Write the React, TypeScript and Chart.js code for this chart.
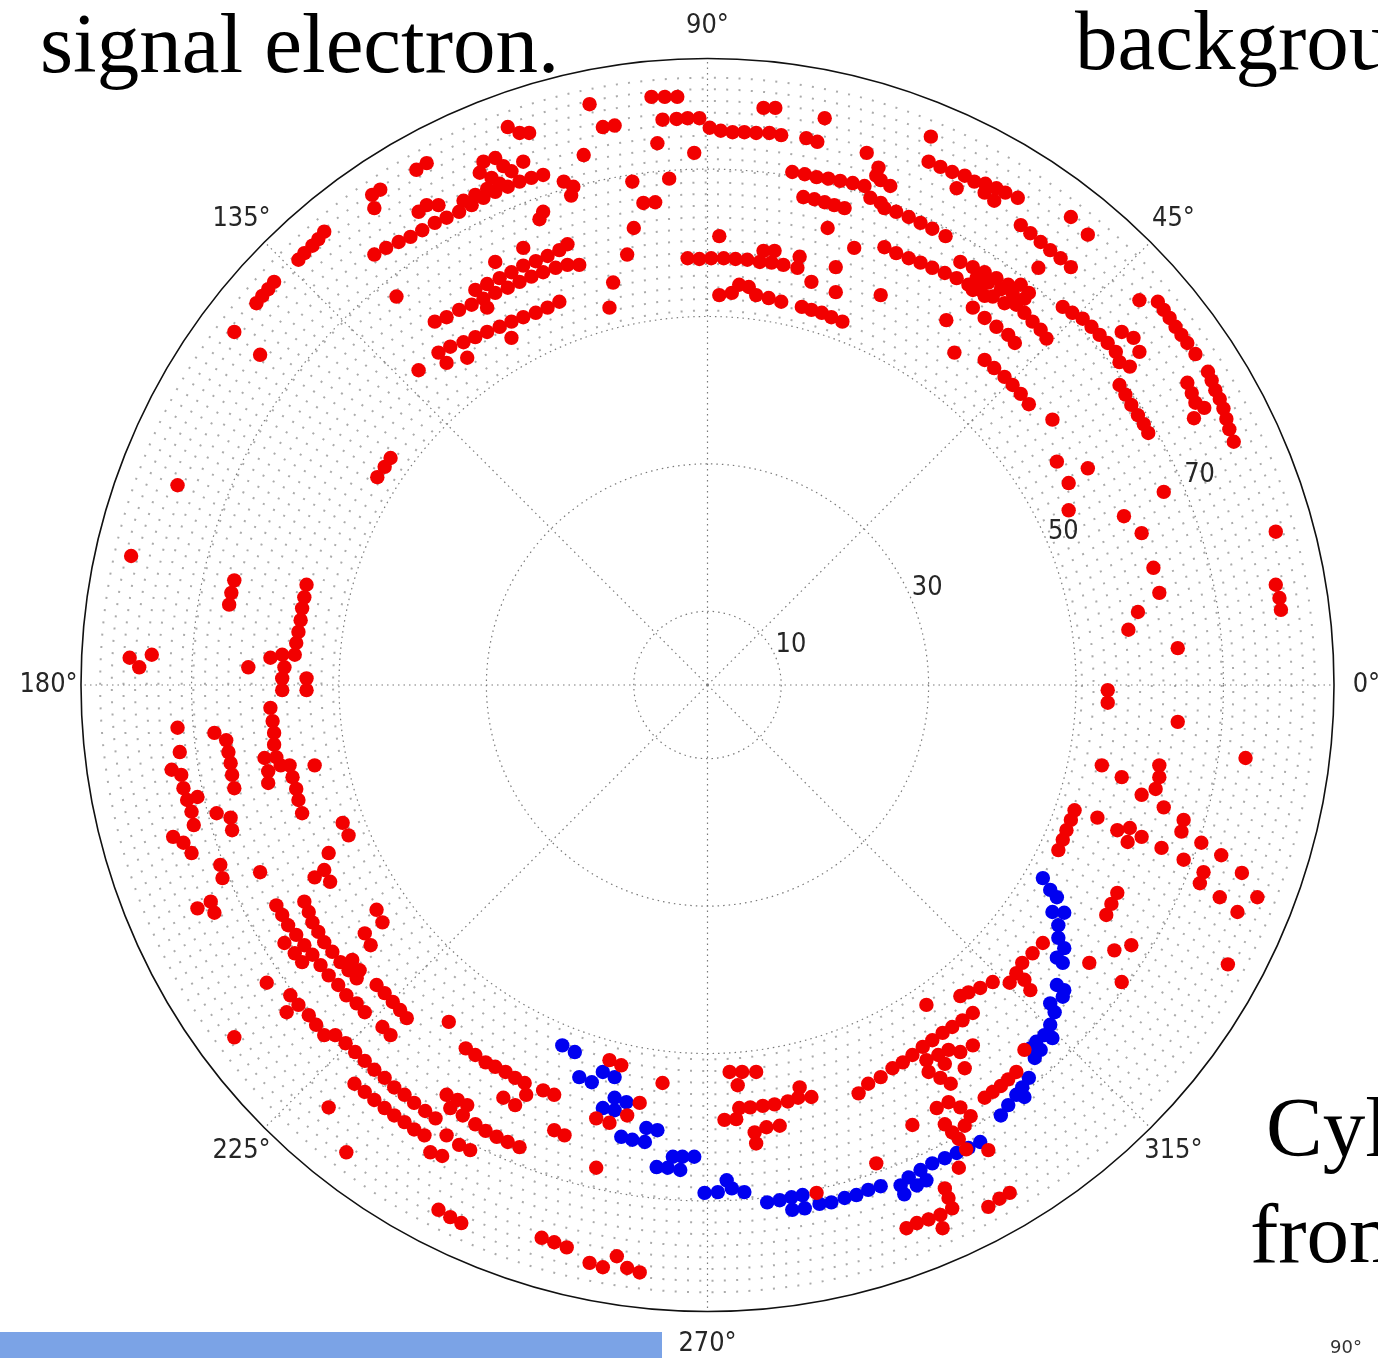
import React, { useEffect, useRef } from "react";
import { Chart, registerables } from "chart.js";

Chart.register(...registerables);

// ---- axes / ticks ----
const R_MAX = 85;
const radialTicks = [10, 30, 50, 70];
const radialLabelAngle = 22.5;
const angleTicks = [0, 45, 90, 135, 180, 225, 270, 315];
const angleTickLabels = ["0°", "45°", "90°", "135°", "180°", "225°", "270°", "315°"];
const ANGLE_LABEL_R = 89.4;
// drift-chamber wire layers (drawn as a dotted background grid)
const WIRE_INNER = 50.8;
const WIRE_OUTER = 82.4;
const WIRE_STEP = 1.58;

// ---- hits, [x, y] in the same units as the radial axis ----
const redUpperHits: number[][] = [
  [-7.6, 79.8], [-5.8, 79.8], [-4.1, 79.8], [-6.1, 76.7], [-4.2, 76.8], [-2.7, 76.9], [-1.1, 76.9],
  [0.3, 75.6], [1.8, 75.2], [3.4, 75.0], [5.0, 75.0], [6.6, 74.9], [8.4, 74.9], [10.0, 74.6],
  [-14.2, 75.7], [-12.6, 75.9], [7.6, 78.3], [9.2, 78.3], [15.9, 76.9], [13.4, 74.2], [14.9, 73.7],
  [-6.8, 73.5], [-1.8, 72.2], [-10.2, 68.3], [-5.2, 68.7], [21.6, 72.2], [23.2, 70.2], [22.9, 69.1],
  [11.5, 69.6], [13.2, 69.3], [14.8, 68.9], [16.4, 68.7], [18.0, 68.4], [19.7, 68.1], [21.3, 67.7],
  [23.5, 68.5], [24.8, 67.7], [22.1, 66.1], [23.5, 65.4],
  [24.0, 64.7], [25.6, 64.2], [27.3, 63.5], [28.9, 62.7], [30.5, 61.9], [32.3, 60.9],
  [13.0, 66.2], [14.5, 65.9], [15.9, 65.5], [17.2, 65.1], [18.6, 64.7], [16.3, 62.0],
  [1.6, 60.9],
  [-2.7, 57.9], [-1.1, 57.8], [0.5, 57.9], [2.2, 57.9], [3.8, 57.8], [5.4, 57.7], [7.1, 57.4],
  [8.7, 57.3], [10.3, 57.0], [12.2, 56.6], [7.6, 58.9], [9.1, 58.9], [12.5, 58.1], [19.9, 59.3],
  [17.4, 56.7], [14.1, 54.7], [17.4, 53.3], [23.5, 52.9],
  [1.6, 52.9], [3.3, 53.2], [4.3, 54.3], [5.6, 54.0], [6.6, 52.9], [8.3, 52.5], [10.0, 52.0],
  [12.8, 51.3], [14.1, 50.9], [15.5, 50.5], [16.8, 49.9], [18.3, 49.3],
  [-8.7, 65.4], [-7.1, 65.5], [-10.0, 62.0], [-10.9, 58.4], [-12.8, 54.6], [-13.3, 51.2],
  [-16.0, 78.8], [-16.8, 71.9],
];

const redUpperRightHits: number[][] = [
  [30.3, 74.4], [30.0, 71.0], [31.6, 70.3], [33.2, 69.6], [34.9, 69.1], [36.2, 68.3], [37.7, 68.0],
  [39.2, 67.4], [40.4, 66.8], [42.1, 66.1], [33.8, 67.4], [37.6, 66.8], [38.9, 65.7], [49.3, 63.5],
  [51.6, 61.1],
  [42.5, 62.4], [43.8, 61.3], [45.2, 60.1], [46.5, 59.0], [47.9, 57.9], [49.3, 56.7], [44.9, 56.6],
  [24.0, 59.4], [25.6, 58.6], [27.3, 57.9], [28.9, 57.3], [30.5, 56.6], [32.2, 55.9], [33.8, 55.2],
  [35.4, 54.3], [37.0, 53.6], [38.7, 52.7], [40.3, 51.8],
  [34.3, 57.4], [36.0, 56.7], [37.6, 56.0], [39.2, 55.2], [40.8, 54.3], [42.5, 54.3], [43.6, 53.2],
  [36.5, 55.2], [38.1, 54.6], [39.8, 53.7], [41.4, 53.1], [43.0, 52.4], [36.0, 53.6], [37.6, 52.8],
  [36.0, 51.2], [37.6, 49.8], [39.2, 48.6], [40.8, 47.5], [41.7, 46.4],
  [41.9, 51.6], [43.0, 50.5], [44.1, 49.3], [45.2, 48.2], [46.0, 47.0],
  [32.4, 49.5], [33.5, 45.1],
  [37.6, 44.1], [38.9, 43.0], [40.3, 41.8], [41.4, 40.7], [42.5, 39.5], [43.6, 38.1],
  [46.8, 36.0], [47.4, 30.3], [51.6, 29.4],
  [48.2, 51.3], [49.5, 50.5], [50.9, 49.7], [52.1, 48.6], [53.2, 47.5], [54.3, 46.4], [55.4, 45.2],
  [55.9, 43.8], [56.2, 47.9], [57.8, 47.1], [58.6, 45.2], [57.3, 43.2],
  [55.9, 40.7], [56.7, 39.4], [57.5, 38.0], [58.4, 36.6], [59.2, 35.4], [59.8, 34.2], [58.6, 52.2],
  [61.1, 52.0], [61.9, 50.9], [62.7, 49.8], [63.5, 48.6], [64.3, 47.5], [65.1, 46.4], [66.2, 44.9],
  [67.9, 42.5], [68.4, 41.3], [68.9, 40.0], [69.5, 38.8], [70.0, 37.5], [70.4, 36.1], [70.8, 34.7],
  [71.4, 33.0], [65.1, 41.0], [65.7, 39.6], [66.2, 38.3], [66.0, 36.2], [67.4, 37.6],
  [49.0, 27.4], [49.0, 23.7],
];

const redRightHits: number[][] = [
  [56.5, 22.9], [58.9, 20.6], [61.9, 26.2], [77.1, 20.8], [60.5, 15.9], [61.3, 12.5], [58.4, 9.9],
  [57.1, 7.5], [63.8, 5.0], [77.1, 13.6], [77.6, 11.8], [77.8, 10.2], [54.3, -0.7], [54.3, -2.4],
  [63.8, -5.0], [73.0, -9.9], [53.5, -10.9], [56.2, -12.5], [61.3, -10.9], [61.3, -12.5],
  [60.8, -14.1], [58.9, -14.9], [61.9, -16.6], [52.9, -18.0], [64.6, -18.3], [64.3, -19.9],
  [55.6, -19.7], [57.3, -19.4], [57.0, -21.3], [58.9, -20.6], [61.6, -22.1], [64.6, -23.7],
  [67.0, -21.4], [69.7, -23.1], [67.3, -25.4], [66.8, -26.9], [72.5, -25.5], [69.5, -28.8],
  [74.6, -28.8], [71.9, -30.8], [70.6, -37.9],
  [49.8, -17.0], [49.3, -18.3], [48.7, -19.7], [48.2, -21.0], [47.6, -22.4],
  [55.6, -28.2], [54.8, -29.7], [54.1, -31.2], [51.8, -37.7], [55.2, -36.0], [57.5, -35.3],
  [56.2, -40.3],
  [45.5, -35.0], [44.1, -36.4], [42.7, -37.7], [41.9, -39.1], [41.0, -40.4], [38.7, -40.3],
  [37.0, -41.1], [35.4, -41.7], [34.3, -42.2], [43.0, -40.0], [43.8, -41.4], [29.7, -43.4],
  [36.0, -44.5], [34.6, -45.5], [33.2, -46.4], [31.9, -47.2], [30.5, -48.2], [29.2, -49.1],
  [27.8, -50.2], [26.5, -51.2], [25.1, -52.0], [23.5, -53.2], [21.8, -54.1], [20.5, -55.4],
  [31.3, -50.2], [29.7, -50.9], [32.2, -51.4], [30.0, -52.5], [31.6, -53.3], [33.0, -54.1],
  [32.7, -49.5], [34.3, -49.8], [36.0, -48.9], [34.9, -52.0],
  [41.9, -52.5], [40.8, -53.5], [39.8, -54.4], [38.7, -55.2], [37.6, -56.0], [43.0, -49.5],
  [31.1, -57.4], [32.7, -56.6], [34.3, -57.3], [35.7, -58.5], [34.9, -59.8], [33.2, -60.7],
  [32.2, -59.6], [27.8, -59.7], [34.1, -61.6], [35.1, -63.0], [38.1, -63.1], [34.1, -65.5],
  [22.9, -64.9], [32.2, -68.3], [32.7, -69.6], [33.2, -71.0], [31.6, -71.9], [30.0, -72.5],
  [28.4, -73.0], [27.0, -73.7], [31.9, -73.7], [38.1, -70.8], [39.6, -69.7], [41.0, -68.9],
  [14.8, -68.9],
];

const redBottomHits: number[][] = [
  [3.0, -52.5], [4.7, -52.5], [6.6, -52.5], [4.1, -54.3], [2.3, -59.0], [3.9, -58.9], [4.3, -57.4],
  [5.8, -57.3], [7.5, -57.1], [9.1, -56.9], [10.9, -56.5], [12.3, -56.0], [12.5, -54.6], [14.1, -55.9],
  [6.4, -60.7], [8.0, -60.0], [9.8, -59.8], [6.6, -62.2],
  [-13.3, -50.9], [-11.7, -51.6], [-6.1, -54.0], [-20.8, -55.6], [-20.8, -60.4], [-19.4, -61.1],
  [-15.1, -58.8], [-13.3, -59.4], [-10.9, -58.4], [-9.2, -56.7], [-15.1, -65.5], [-22.3, -55.0],
  [-20.8, -75.6], [-19.1, -76.3], [-22.5, -75.0], [-16.0, -78.4], [-14.2, -79.0], [-12.3, -77.5],
  [-10.9, -79.1], [-9.2, -79.7],
];

const redLowerLeftHits: number[][] = [
  [-36.5, -71.2], [-34.9, -72.2], [-33.4, -73.0], [-49.0, -63.4], [-51.4, -57.3], [-64.2, -47.8],
  [-59.8, -40.4], [-35.1, -45.7],
  [-32.8, -49.3], [-31.5, -50.2], [-30.1, -51.2], [-28.8, -51.8], [-27.4, -52.5], [-26.1, -53.3],
  [-24.8, -54.0], [-27.7, -56.0], [-26.1, -57.0], [-24.6, -55.6],
  [-35.4, -55.6], [-33.9, -56.3], [-32.6, -57.0], [-34.9, -57.4], [-33.2, -58.4], [-31.5, -59.6],
  [-30.1, -60.5], [-28.6, -61.3], [-27.1, -62.0], [-25.5, -62.7], [-35.4, -61.1], [-37.6, -63.4],
  [-36.0, -63.9], [-33.7, -62.4], [-32.2, -63.1],
  [-56.6, -42.1], [-57.1, -44.4], [-55.5, -43.4], [-54.1, -44.8], [-53.1, -46.1], [-52.0, -47.5],
  [-50.5, -47.5], [-49.1, -48.6], [-47.8, -49.8], [-46.5, -51.0], [-45.2, -52.2], [-43.8, -53.3],
  [-42.5, -54.6], [-41.1, -55.6], [-39.8, -56.7], [-38.3, -57.8], [-36.9, -58.8],
  [-47.9, -54.1], [-46.5, -55.2], [-45.2, -56.3], [-43.8, -57.4], [-42.5, -58.4], [-41.1, -59.3],
  [-39.8, -60.3], [-38.4, -61.1],
  [-44.9, -40.7], [-43.8, -41.8], [-42.7, -43.0], [-41.7, -44.1], [-40.8, -45.2],
  [-44.9, -30.5], [-44.1, -32.2], [-46.5, -33.7], [-45.7, -35.3], [-44.1, -46.4], [-43.0, -47.5],
  [-58.5, -29.9], [-57.7, -31.2], [-56.9, -32.6], [-55.8, -33.9], [-54.7, -35.3], [-53.6, -36.6],
  [-52.5, -38.0], [-51.4, -39.4], [-50.1, -40.7], [-49.0, -42.1], [-47.6, -43.2], [-46.5, -44.4],
  [-54.7, -29.4], [-54.1, -30.8], [-53.6, -32.2], [-52.8, -33.5], [-52.0, -34.9], [-50.9, -36.2],
  [-49.8, -37.6], [-48.7, -38.7], [-47.6, -39.8],
  [-57.4, -35.0], [-56.0, -36.4], [-55.0, -37.6], [-48.2, -37.3], [-47.2, -38.7],
  [-69.2, -30.3], [-67.4, -29.4], [-66.9, -30.9],
];

const redLeftHits: number[][] = [
  [-43.0, 30.8], [-43.8, 29.6], [-44.8, 28.2], [-71.9, 27.1], [-78.2, 17.5],
  [-64.2, 14.2], [-64.6, 12.5], [-64.9, 10.9],
  [-54.4, 13.6], [-54.7, 11.9], [-55.0, 10.4], [-55.2, 8.8], [-55.5, 7.2], [-55.8, 5.7], [-56.0, 4.1],
  [-59.3, 3.7], [-57.7, 4.1], [-57.4, 2.4], [-57.7, 0.9], [-57.7, -0.7], [-54.4, 0.9], [-54.4, -0.7],
  [-62.3, 2.4], [-78.4, 3.7], [-77.1, 2.4], [-75.4, 4.1],
  [-59.3, -3.1], [-59.0, -4.9], [-58.8, -6.5], [-58.8, -8.1], [-58.5, -9.8], [-60.1, -9.9],
  [-59.6, -11.7], [-59.6, -13.3], [-57.9, -10.9], [-56.7, -10.9], [-56.3, -12.5], [-55.8, -14.1],
  [-55.5, -15.6], [-55.0, -17.4], [-53.3, -10.9], [-71.9, -5.8],
  [-66.9, -6.5], [-65.3, -7.5], [-65.0, -9.1], [-64.7, -10.6], [-64.5, -12.2], [-64.2, -14.0],
  [-71.6, -9.1], [-72.7, -11.5], [-71.4, -12.2], [-71.1, -14.0], [-70.6, -15.6], [-70.0, -17.2],
  [-69.7, -19.0], [-69.2, -15.2], [-66.6, -17.4], [-64.7, -18.0], [-64.5, -19.7],
  [-72.5, -20.6], [-71.1, -21.4], [-70.0, -22.8], [-49.5, -18.7], [-48.7, -20.4], [-51.4, -22.8],
  [-60.7, -25.4], [-66.1, -24.4], [-65.8, -26.2], [-53.3, -26.1], [-52.0, -25.1], [-51.2, -26.7],
];

const redUpperLeftHits: number[][] = [
  [-27.1, 75.7], [-25.5, 74.9], [-24.2, 74.9], [-38.1, 70.8], [-39.5, 69.9],
  [-45.2, 58.4], [-43.6, 59.3], [-41.9, 60.1], [-40.3, 60.8], [-38.7, 61.7], [-37.0, 62.7],
  [-35.4, 63.4], [-33.7, 64.2], [-32.0, 65.1], [-30.4, 66.1], [-28.8, 66.9], [-27.1, 67.6],
  [-25.5, 68.3], [-23.9, 68.8], [-22.3, 69.2],
  [-30.4, 71.0], [-28.8, 71.5], [-27.7, 70.4], [-26.6, 69.7], [-25.0, 71.0], [-30.9, 69.5],
  [-29.3, 68.8], [-39.2, 64.2], [-38.1, 65.1], [-36.5, 65.1], [-33.1, 65.7], [-31.5, 66.5],
  [-29.9, 67.3], [-28.2, 68.0],
  [-19.5, 68.3], [-18.2, 67.6], [-18.5, 66.4], [-45.5, 66.5], [-44.4, 67.2], [-45.2, 64.7],
  [-22.3, 64.2], [-22.8, 63.2],
  [-52.0, 61.5], [-52.8, 60.5], [-53.6, 59.6], [-54.7, 58.6], [-55.5, 57.7],
  [-58.8, 54.7], [-59.6, 53.7], [-60.4, 52.8], [-61.2, 51.8], [-64.2, 47.9], [-60.7, 44.8],
  [-42.2, 52.7], [-39.2, 42.7],
  [-37.0, 49.3], [-35.4, 49.9], [-33.7, 50.9], [-32.0, 51.6], [-30.4, 52.4], [-28.8, 53.2],
  [-27.1, 53.9], [-25.5, 54.7], [-23.9, 55.4], [-22.3, 56.0], [-20.6, 56.6], [-19.0, 57.0],
  [-17.4, 57.0],
  [-36.5, 45.1], [-34.9, 45.9], [-33.1, 46.5], [-31.5, 47.2], [-29.9, 47.9], [-28.2, 48.6],
  [-26.6, 49.3], [-25.0, 49.9], [-23.3, 50.5], [-21.7, 51.2], [-20.1, 52.0],
  [-31.5, 53.6], [-29.9, 54.4], [-28.2, 55.2], [-26.6, 56.0], [-25.0, 56.9], [-23.3, 57.5],
  [-21.7, 58.2], [-20.1, 59.0], [-19.0, 59.8],
  [-28.8, 57.4], [-25.0, 59.3], [-29.9, 51.2], [-26.6, 47.1], [-35.4, 43.7], [-32.6, 44.4],
];

const blueHits: number[][] = [
  [-19.7, -48.9], [-18.0, -49.8], [-17.4, -53.2], [-15.7, -53.9], [-14.2, -52.5], [-12.6, -53.2],
  [-12.6, -56.0], [-11.0, -56.6], [-14.2, -57.4], [-12.6, -57.7], [-11.7, -61.3], [-10.2, -61.7],
  [-8.5, -62.0], [-8.3, -60.1], [-6.8, -60.4], [-6.9, -65.4], [-5.4, -65.5], [-4.7, -64.0],
  [-3.4, -64.0], [-1.8, -64.0], [-3.7, -65.8], [-0.4, -68.9], [1.4, -68.8], [2.6, -67.2],
  [3.3, -68.3], [5.0, -68.8], [8.1, -70.2], [9.8, -69.9], [11.4, -69.5], [12.9, -69.2],
  [11.5, -71.2], [13.2, -71.0], [15.2, -70.4], [16.8, -70.2], [18.6, -69.6], [20.2, -69.2],
  [21.8, -68.5], [23.5, -68.0], [26.2, -67.9], [26.7, -69.1], [27.3, -66.8], [28.4, -67.9],
  [28.9, -65.8], [29.7, -67.2], [30.5, -64.9], [32.2, -64.2], [33.8, -63.5], [35.4, -62.8],
  [37.0, -62.0], [39.8, -58.4], [40.8, -57.0], [41.9, -55.6], [43.0, -55.9], [42.7, -54.6],
  [43.6, -53.3], [44.4, -50.6], [45.2, -49.5], [43.8, -49.3], [44.6, -48.4], [45.7, -47.5],
  [46.8, -47.9], [46.5, -46.1], [47.4, -40.7], [48.4, -41.4], [48.2, -42.3], [46.5, -43.2],
  [47.1, -44.4], [47.6, -34.3], [48.4, -35.7], [47.4, -37.0], [48.2, -37.7], [47.4, -28.8],
  [46.8, -30.8], [48.4, -30.9], [47.6, -32.6], [45.5, -26.2], [46.5, -27.8],
];

const RED = "#f20000";
const BLUE = "#0000f0";

const toPoints = (arr: number[][]) => arr.map(([x, y]) => ({ x, y }));

function drawScaledText(ctx: any, text: string, x: number, y: number, align: string, baseline: string) {
  ctx.save();
  ctx.translate(x, y);
  ctx.scale(0.93, 1);
  ctx.textAlign = align;
  ctx.textBaseline = baseline;
  ctx.fillText(text, 0, 0);
  ctx.restore();
}

const polarFrame = {
  id: "polarFrame",
  beforeDatasetsDraw(chart: any) {
    const { ctx } = chart;
    const sx = chart.scales.x;
    const sy = chart.scales.y;
    const cx = sx.getPixelForValue(0);
    const cy = sy.getPixelForValue(0);
    const k = sx.getPixelForValue(1) - cx;
    ctx.save();
    // wire layers: light dotted rings
    ctx.lineWidth = 2;
    ctx.lineCap = "butt";
    ctx.strokeStyle = "rgba(115,115,115,0.6)";
    let layer = 0;
    for (let r = WIRE_INNER; r <= WIRE_OUTER + 0.001; r += WIRE_STEP) {
      const rp = r * k;
      const circ = 2 * Math.PI * rp;
      const n = Math.round(circ / 12.3);
      const period = circ / n;
      ctx.setLineDash([2, period - 2]);
      ctx.lineDashOffset = (layer % 2) * period * 0.5;
      ctx.beginPath();
      ctx.arc(cx, cy, rp, 0, Math.PI * 2);
      ctx.stroke();
      layer++;
    }
    ctx.lineDashOffset = 0;
    // grid circles
    ctx.setLineDash([1.5, 4]);
    ctx.lineWidth = 1.2;
    ctx.strokeStyle = "#7a7a7a";
    for (const r of radialTicks) {
      ctx.beginPath();
      ctx.arc(cx, cy, r * k, 0, Math.PI * 2);
      ctx.stroke();
    }
    // angular grid lines
    for (const a of angleTicks) {
      const t = (a * Math.PI) / 180;
      ctx.beginPath();
      ctx.moveTo(cx, cy);
      ctx.lineTo(cx + R_MAX * k * Math.cos(t), cy - R_MAX * k * Math.sin(t));
      ctx.stroke();
    }
    ctx.restore();
  },
  afterDatasetsDraw(chart: any) {
    const { ctx } = chart;
    const sx = chart.scales.x;
    const sy = chart.scales.y;
    const cx = sx.getPixelForValue(0);
    const cy = sy.getPixelForValue(0);
    const k = sx.getPixelForValue(1) - cx;
    ctx.save();
    ctx.setLineDash([]);
    ctx.lineWidth = 1.6;
    ctx.strokeStyle = "#111";
    ctx.beginPath();
    ctx.arc(cx, cy, R_MAX * k, 0, Math.PI * 2);
    ctx.stroke();
    ctx.fillStyle = "#262626";
    ctx.font = '26px "DejaVu Sans"';
    angleTicks.forEach((a, i) => {
      const t = (a * Math.PI) / 180;
      drawScaledText(
        ctx,
        angleTickLabels[i],
        cx + ANGLE_LABEL_R * k * Math.cos(t),
        cy - ANGLE_LABEL_R * k * Math.sin(t),
        "center",
        "middle"
      );
    });
    const tl = (radialLabelAngle * Math.PI) / 180;
    for (const r of radialTicks) {
      drawScaledText(ctx, String(r), cx + r * k * Math.cos(tl), cy - r * k * Math.sin(tl) + 1, "left", "bottom");
    }
    ctx.restore();
  },
};

export default function App() {
  const ref = useRef<HTMLCanvasElement | null>(null);

  useEffect(() => {
    if (!ref.current) return;
    const redSets = [
      redUpperHits,
      redUpperRightHits,
      redRightHits,
      redBottomHits,
      redLowerLeftHits,
      redLeftHits,
      redUpperLeftHits,
    ];
    const datasets: any[] = redSets.map((arr, i) => ({
      label: "background " + i,
      data: toPoints(arr),
      backgroundColor: RED,
      borderColor: RED,
      borderWidth: 0,
      pointRadius: 7.2,
      pointHoverRadius: 7.2,
    }));
    datasets.push({
      label: "signal",
      data: toPoints(blueHits),
      backgroundColor: BLUE,
      borderColor: BLUE,
      borderWidth: 0,
      pointRadius: 7.2,
      pointHoverRadius: 7.2,
    });
    const chart = new Chart(ref.current, {
      type: "scatter",
      data: { datasets },
      options: {
        responsive: false,
        animation: false,
        devicePixelRatio: 1,
        layout: { padding: { left: 81, right: 44, top: 58.5, bottom: 46.5 } },
        scales: {
          x: { type: "linear", min: -R_MAX, max: R_MAX, display: false },
          y: { type: "linear", min: -R_MAX, max: R_MAX, display: false },
        },
        plugins: { legend: { display: false }, tooltip: { enabled: false } },
      } as any,
      plugins: [polarFrame as any],
    });
    return () => chart.destroy();
  }, []);

  const serif = '"Liberation Serif", "Times New Roman", serif';
  const slideText = (text: string, left: number, top: number) => (
    <div
      style={{
        position: "absolute",
        left,
        top,
        fontFamily: serif,
        fontSize: 85,
        lineHeight: 1,
        color: "#000",
        whiteSpace: "nowrap",
      }}
    >
      {text}
    </div>
  );

  return (
    <div
      style={{
        position: "absolute",
        left: 0,
        top: 0,
        width: 1378,
        height: 1358,
        overflow: "hidden",
        background: "#fff",
      }}
    >
      <canvas ref={ref} width={1378} height={1358} style={{ position: "absolute", left: 0, top: 0, display: "block" }} />
      {slideText("signal electron.", 40, 1)}
      {slideText("background", 1075, -2)}
      {slideText("Cylindrical", 1266, 1085)}
      {slideText("from", 1250, 1191)}
      <div style={{ position: "absolute", left: 0, top: 1332, width: 662, height: 26, background: "#7ba3e6" }} />
      <div
        style={{
          position: "absolute",
          left: 1330,
          top: 1338,
          fontFamily: '"DejaVu Sans", sans-serif',
          fontSize: 18,
          lineHeight: 1,
          color: "#333",
          whiteSpace: "nowrap",
        }}
      >
        90°
      </div>
    </div>
  );
}
